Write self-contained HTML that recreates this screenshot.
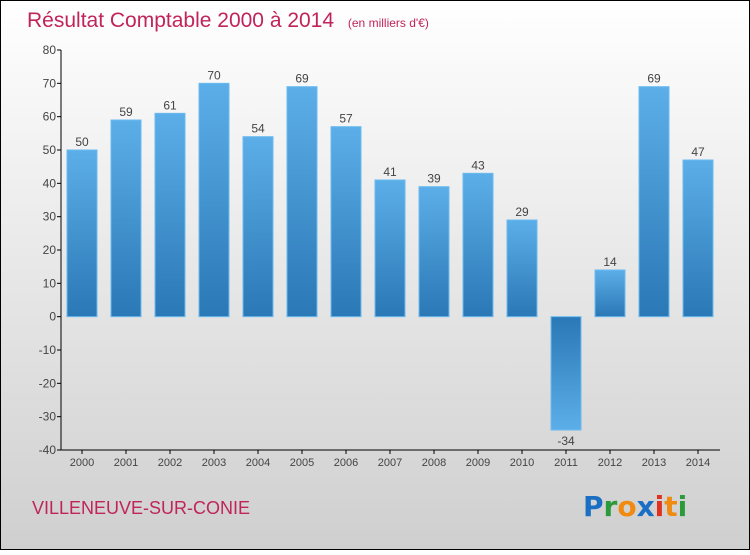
<!DOCTYPE html>
<html><head><meta charset="utf-8"><style>
html,body{margin:0;padding:0}
body{width:750px;height:550px;overflow:hidden;font-family:"Liberation Sans","DejaVu Sans",sans-serif}
</style></head><body>
<svg width="750" height="550" xmlns="http://www.w3.org/2000/svg">
<defs>
<linearGradient id="bg" x1="0" y1="0" x2="0" y2="1"><stop offset="0" stop-color="#ffffff"/><stop offset="1" stop-color="#cfcfcf"/></linearGradient>
<linearGradient id="bp" x1="0" y1="0" x2="0" y2="1"><stop offset="0" stop-color="#5caee8"/><stop offset="1" stop-color="#2a78b6"/></linearGradient>
<linearGradient id="bn" x1="0" y1="0" x2="0" y2="1"><stop offset="0" stop-color="#2a78b6"/><stop offset="1" stop-color="#5caee8"/></linearGradient>
</defs>
<rect x="0.5" y="0.5" width="749" height="549" fill="url(#bg)" stroke="#000"/>
<text x="27" y="27" font-size="21" fill="#c0245a">Résultat Comptable 2000 à 2014 <tspan font-size="12" dx="8">(en milliers d'€)</tspan></text>
<g id="yaxis"></g>
<g id="bars"></g>
<g id="xaxis"></g>
<text x="32" y="514" font-size="18" fill="#c0245a">VILLENEUVE-SUR-CONIE</text>
<g font-size="28" font-weight="bold" font-family="'DejaVu Sans',sans-serif">
<text x="583" y="516"><tspan fill="#1a6fc4">P</tspan><tspan fill="#2a9a3a">r</tspan><tspan fill="#f08a10">o</tspan><tspan fill="#1a6fc4">x</tspan><tspan fill="#e03020">i</tspan><tspan fill="#f08a10">t</tspan><tspan fill="#2a9a3a">i</tspan></text>
</g>
</svg>
<script>
const categories=["2000","2001","2002","2003","2004","2005","2006","2007","2008","2009","2010","2011","2012","2013","2014"];
const values=[50,59,61,70,54,69,57,41,39,43,29,-34,14,69,47];
const yTicks=[80,70,60,50,40,30,20,10,0,-10,-20,-30,-40];
const NS="http://www.w3.org/2000/svg";
const yMin=-40,yMax=80,plotTop=50,plotBot=450,plotLeft=61,plotRight=720;
function yScale(v){return plotBot-(v-yMin)/(yMax-yMin)*(plotBot-plotTop);}
function xScale(i){return 82+i*44;}
function mk(t,a,p,txt){const e=document.createElementNS(NS,t);for(const k in a)e.setAttribute(k,a[k]);if(txt!==undefined)e.textContent=txt;p.appendChild(e);return e;}
const ya=document.getElementById('yaxis'),xa=document.getElementById('xaxis'),bg=document.getElementById('bars');
mk('line',{x1:plotLeft,y1:plotTop,x2:plotLeft,y2:plotBot,stroke:'#000'},ya);
yTicks.forEach(t=>{
  const l=mk('line',{x1:plotLeft-4,y1:yScale(t),x2:plotLeft,y2:yScale(t),stroke:'#000'},ya);
  
  
  const tx=mk('text',{x:plotLeft-5,y:yScale(t)+4,'font-size':12,fill:'#444','text-anchor':'end'},ya,String(t));
  
  
});
mk('line',{x1:plotLeft,y1:plotBot,x2:plotRight,y2:plotBot,stroke:'#000'},xa);
categories.forEach((c,i)=>{
  const cx=xScale(i),v=values[i];
  const t=mk('line',{x1:cx,y1:plotBot,x2:cx,y2:plotBot+4,stroke:'#000'},xa);
  
  
  const lb=mk('text',{x:cx,y:plotBot+16,'font-size':11,fill:'#444','text-anchor':'middle'},xa,c);
  
  
  const y0=yScale(0),yv=yScale(v);
  const r=mk('rect',{x:cx-15,y:Math.min(y0,yv),width:30,height:Math.abs(yv-y0),fill:v>=0?'url(#bp)':'url(#bn)',stroke:'#6bbbf0','stroke-width':1},bg);
  
  
  const vl=mk('text',{x:cx,y:v>=0?yv-4:yv+15,'font-size':12,fill:'#444','text-anchor':'middle'},bg,String(v));
  
  
});
</script>
</body></html>
